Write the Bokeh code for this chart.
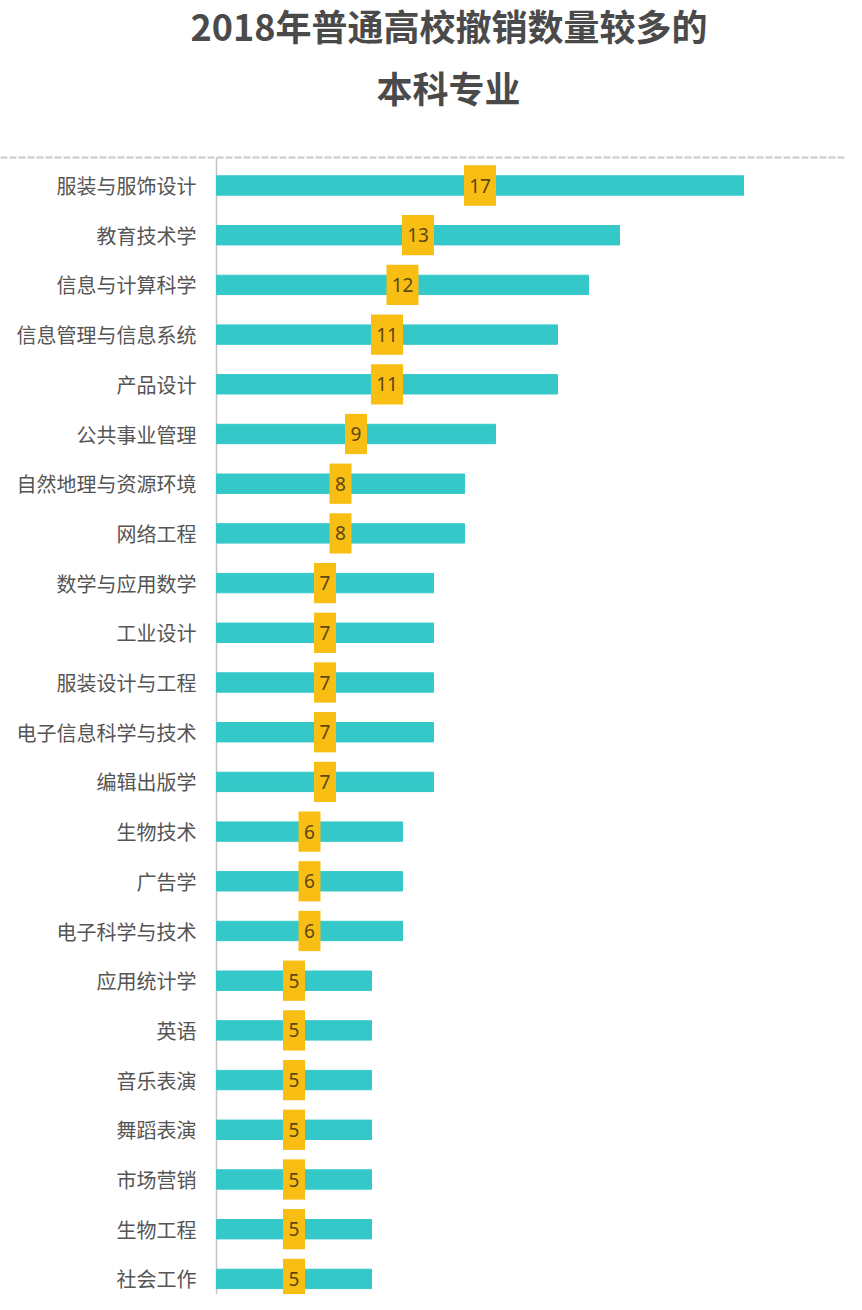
from bokeh.plotting import figure
from bokeh.models import Title, Span, Range1d, ColumnDataSource
from bokeh.core.properties import value
from bokeh.embed import file_html
from bokeh.resources import INLINE

majors = ["服装与服饰设计", "教育技术学", "信息与计算科学", "信息管理与信息系统", "产品设计",
          "公共事业管理", "自然地理与资源环境", "网络工程", "数学与应用数学", "工业设计",
          "服装设计与工程", "电子信息科学与技术", "编辑出版学", "生物技术", "广告学",
          "电子科学与技术", "应用统计学", "英语", "音乐表演", "舞蹈表演", "市场营销",
          "生物工程", "社会工作"]
counts = [17, 13, 12, 11, 11, 9, 8, 8, 7, 7, 7, 7, 7, 6, 6, 6, 5, 5, 5, 5, 5, 5, 5]
title_line1 = "2018年普通高校撤销数量较多的"
title_line2 = "本科专业"

PX = 31.0    # pixels per unit on x
ROW = 49.7   # pixels per row
W, H = 846, 1294
F = 123      # expected frame top (px)
ROW0 = 185   # first row centre (px)
LEFT0 = 216
frame_h = H - F
y_top = -(ROW0 - F) / ROW
y_bottom = y_top + frame_h / ROW
y_rule = -28 / ROW

src = ColumnDataSource(dict(
    y=list(range(len(majors))),
    name=majors,
    v=counts,
    mid=[c / 2 for c in counts],
    lbl=[str(c) for c in counts],
    bw=[12 + 10 * len(str(c)) for c in counts],
))

p = figure(width=W, height=H, title=None,
           x_range=Range1d(-LEFT0 / PX, (W - LEFT0) / PX),
           y_range=Range1d(y_bottom, y_top),
           x_axis_type=None, y_axis_type=None,
           output_backend="svg", toolbar_location=None,
           min_border_left=0, min_border_right=0, min_border_bottom=0, min_border_top=60)
p.grid.visible = False
p.outline_line_color = None
p.background_fill_color = "white"
p.border_fill_color = "white"

FONT = "Noto Sans CJK SC"

# dashed top line and vertical baseline
p.add_layout(Span(location=y_rule, dimension="width", line_color="#c9c9c9",
                  line_width=2, line_dash="7 2"))
p.segment(x0=[0], y0=[y_rule], x1=[0], y1=[y_bottom], line_color="#c4c4c4", line_width=1.5)

p.hbar(y="y", left=0, right="v", height=0.39, source=src, color="#35C8C9")
p.rect(x="mid", y="y", width="bw", height=0.81, width_units="screen",
       source=src, fill_color="#F8BE14", line_color=None)
p.text(x="mid", y="y", text="lbl", source=src, text_align="center", text_baseline="middle",
       text_font=value("Noto Sans"), text_font_size="19px", text_color="#5a4810")
p.text(x=0, y="y", text="name", source=src, x_offset=-20, text_align="right",
       text_baseline="middle", text_font=value(FONT), text_font_size="20px",
       text_color="#555555")

t2 = Title(text=title_line2, align="left", offset=376, text_font=FONT, text_font_size="36px",
           text_font_style="bold", text_color="#4a4a4a", standoff=22)
t1 = Title(text=title_line1, align="left", offset=190, text_font=FONT, text_font_size="36px",
           text_font_style="bold", text_color="#4a4a4a", standoff=-7)
p.add_layout(t2, "above")
p.add_layout(t1, "above")

open("out.html", "w").write(file_html(p, INLINE))
